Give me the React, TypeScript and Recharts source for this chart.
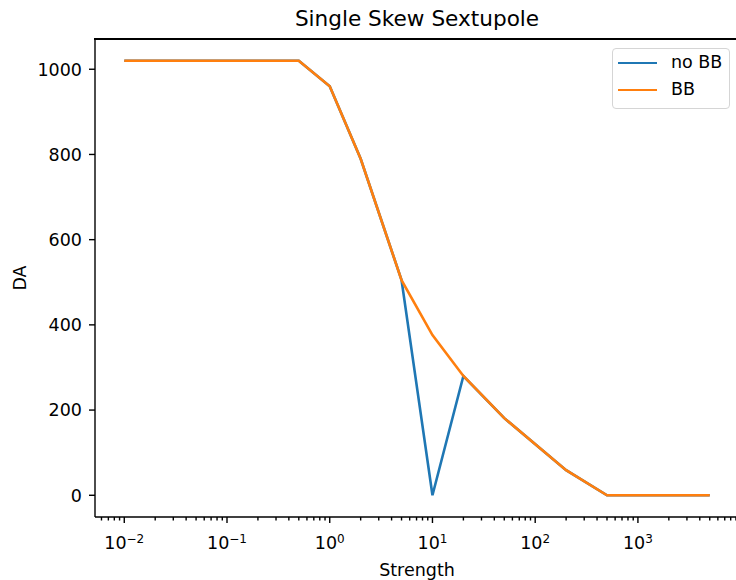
import { LineChart, Line, XAxis, YAxis } from "recharts";

const strength = [0.01, 0.5, 1, 2, 5, 10, 20, 50, 200, 500, 5000];
const daNoBB = [1020, 1020, 960, 790, 505, 0, 280, 181, 59, 0, 0];
const daBB = [1020, 1020, 960, 790, 505, 376, 280, 181, 59, 0, 0];

const majorTicks = [0.01, 0.1, 1, 10, 100, 1000];
const yTicks = [0, 200, 400, 600, 800, 1000];

const series = [
  { key: "noBB", name: "no BB", color: "#1f77b4" },
  { key: "bb", name: "BB", color: "#ff7f0e" },
];

const FONT = "'DejaVu Sans', sans-serif";

const data = strength.map((s, i) => ({ s, noBB: daNoBB[i], bb: daBB[i] }));

// matplotlib-style 5% margins (in log space for x)
const lmin = Math.log10(Math.min(...strength));
const lmax = Math.log10(Math.max(...strength));
const lpad = (lmax - lmin) * 0.05;
const xDomain = [10 ** (lmin - lpad), 10 ** (lmax + lpad)];
const ymax = Math.max(...daNoBB, ...daBB);
const yDomain = [-ymax * 0.05, ymax * 1.05];

const minorTicks: number[] = [];
[0.001, ...majorTicks].forEach((d) => {
  for (let m = 2; m <= 9; m++) {
    const v = d * m;
    if (v > xDomain[0] && v < xDomain[1]) minorTicks.push(v);
  }
});
const xTicks = [...majorTicks, ...minorTicks].sort((a, b) => a - b);

const XTick = (props: any) => {
  const { x, y, payload } = props;
  const v = payload.value;
  const e = Math.round(Math.log10(v));
  const major = Math.abs(v - 10 ** e) < 1e-9 * 10 ** e;
  return (
    <g>
      <line x1={x} x2={x} y1={y} y2={y + (major ? 6 : 3.5)} stroke="#000" strokeWidth={1.4} />
      {major && (
        <text x={x} y={y + 31.5} textAnchor="middle" fontSize={17.5} fill="#000" fontFamily={FONT}>
          10
          <tspan dy={-5.5} fontSize={12}>
            {e < 0 ? "\u2212" + -e : String(e)}
          </tspan>
        </text>
      )}
    </g>
  );
};

const YTick = (props: any) => {
  const { x, y, payload } = props;
  return (
    <g>
      <line x1={x} x2={x - 6} y1={y} y2={y} stroke="#000" strokeWidth={1.4} />
      <text x={x - 13} y={y + 6.4} textAnchor="end" fontSize={17.5} fill="#000" fontFamily={FONT}>
        {payload.value}
      </text>
    </g>
  );
};

export default function App() {
  return (
    <div style={{ position: "absolute", left: 0, top: 0, width: 736, height: 580, overflow: "hidden", background: "#fff" }}>
      <LineChart width={741} height={580} data={data} margin={{ top: 39, right: 2, left: 0, bottom: 0 }}>
        <XAxis
          dataKey="s"
          type="number"
          scale="log"
          domain={xDomain}
          allowDataOverflow
          ticks={xTicks}
          interval={0}
          tick={<XTick />}
          tickLine={false}
          tickSize={0}
          tickMargin={0}
          height={63}
          axisLine={{ stroke: "#000", strokeWidth: 1.4 }}
          label={{
            content: ({ viewBox }: any) => (
              <text
                x={viewBox.x + viewBox.width / 2}
                y={viewBox.y + 58.5}
                textAnchor="middle"
                fontSize={17.5}
                fill="#000"
                fontFamily={FONT}
              >
                Strength
              </text>
            ),
          }}
        />
        <YAxis
          type="number"
          domain={yDomain}
          allowDataOverflow
          ticks={yTicks}
          interval={0}
          tick={<YTick />}
          tickLine={false}
          tickSize={0}
          tickMargin={0}
          width={95}
          axisLine={{ stroke: "#000", strokeWidth: 1.4 }}
          label={{
            content: ({ viewBox }: any) => {
              const cy = viewBox.y + viewBox.height / 2;
              return (
                <text
                  x={26}
                  y={cy}
                  transform={`rotate(-90 26 ${cy})`}
                  textAnchor="middle"
                  fontSize={17.5}
                  fill="#000"
                  fontFamily={FONT}
                >
                  DA
                </text>
              );
            },
          }}
        />
        {series.map((s) => (
          <Line
            key={s.key}
            dataKey={s.key}
            name={s.name}
            type="linear"
            stroke={s.color}
            strokeWidth={2.6}
            dot={false}
            activeDot={false}
            isAnimationActive={false}
          />
        ))}
      </LineChart>

      {/* top spine */}
      <div style={{ position: "absolute", left: 94.3, top: 38.3, width: 650, height: 1.4, background: "#000" }} />

      <div
        style={{
          position: "absolute",
          left: 417,
          top: 7.7,
          transform: "translateX(-50%)",
          fontFamily: FONT,
          fontSize: 21.6,
          lineHeight: 1,
          whiteSpace: "nowrap",
          color: "#000",
        }}
      >
        Single Skew Sextupole
      </div>

      <div
        style={{
          position: "absolute",
          left: 612,
          top: 48,
          width: 116,
          height: 59,
          border: "1px solid #d5d5d5",
          borderRadius: 4,
          background: "rgba(255,255,255,0.8)",
          fontFamily: FONT,
          fontSize: 17.5,
          color: "#000",
        }}
      >
        {series.map((s, i) => (
          <div
            key={s.key}
            style={{
              position: "absolute",
              left: 0,
              top: 0.5 + i * 27,
              height: 27,
              display: "flex",
              alignItems: "center",
              whiteSpace: "nowrap",
            }}
          >
            <span style={{ display: "inline-block", marginLeft: 5, width: 39, height: 2.6, background: s.color }} />
            <span style={{ marginLeft: 14, lineHeight: 1 }}>{s.name}</span>
          </div>
        ))}
      </div>
    </div>
  );
}
